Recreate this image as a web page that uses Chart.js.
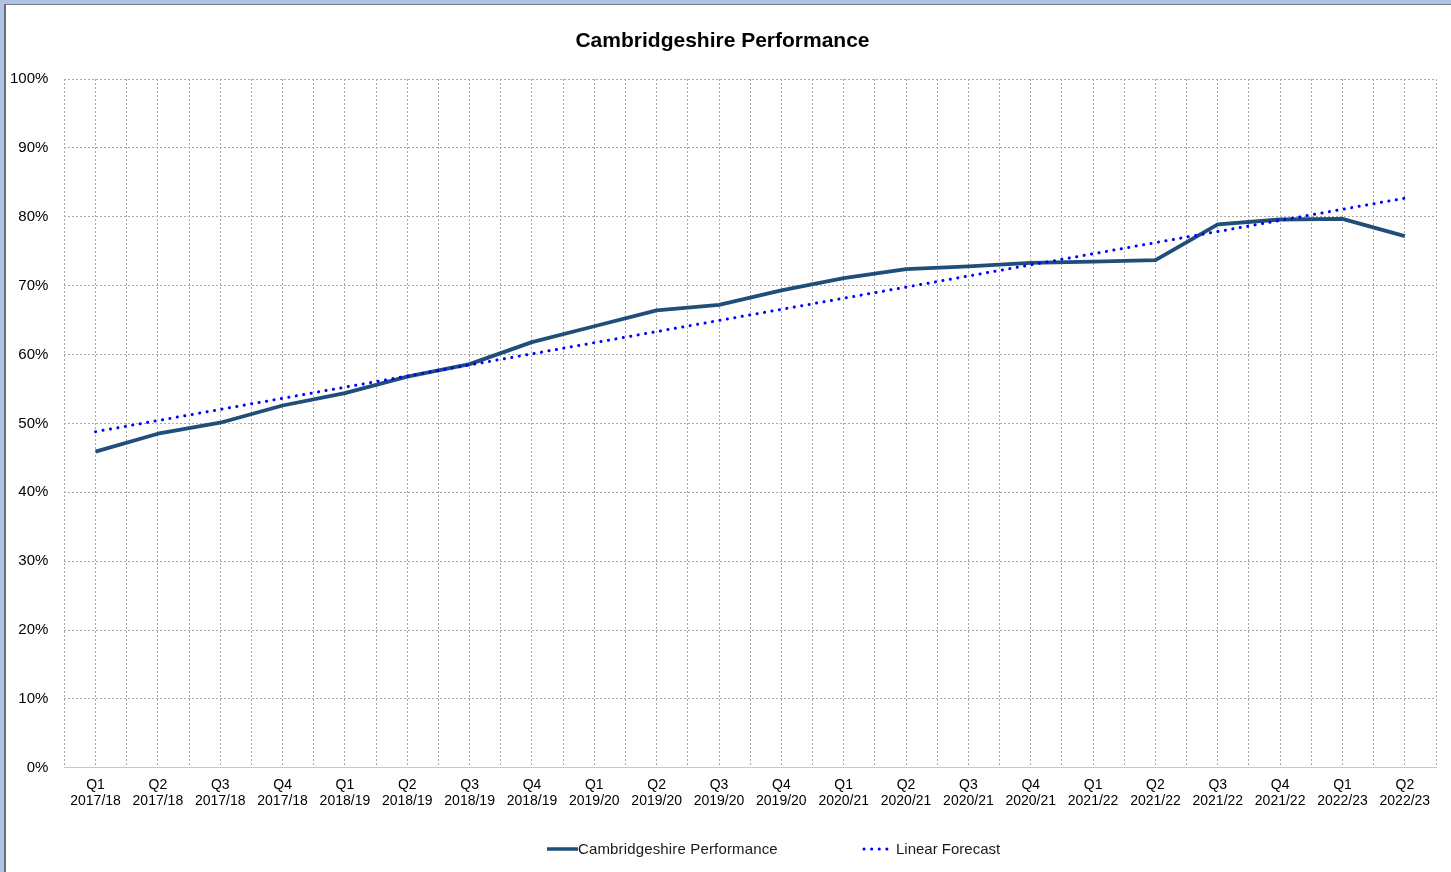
<!DOCTYPE html>
<html>
<head>
<meta charset="utf-8">
<script src="https://cdn.jsdelivr.net/npm/chart.js@4.4.0/dist/chart.umd.min.js"></script>
<style>
  html, body { margin: 0; padding: 0; overflow: hidden; background: #ffffff; }
  #wrap { position: relative; width: 1451px; height: 872px; }
  #chart { position: absolute; left: 0; top: 0; }
  .bandTop { position: absolute; left: 0; top: 0; width: 1451px; height: 4px; background: #adc2e6; }
  .lineTop { position: absolute; left: 4px; top: 4px; width: 1447px; height: 1px; background: #7a7a7a; }
  .bandLeft { position: absolute; left: 0; top: 0; width: 4px; height: 872px; background: #adc2e6; }
  .lineLeft { position: absolute; left: 4px; top: 4px; width: 2px; height: 868px; background: #6e6e6e; }
  #legend { position: absolute; top: 840px; left: 0; width: 1451px; height: 18px;
            font-family: "Liberation Sans", Arial, sans-serif; font-size: 15px; color: #1a1a1a; }
  .item { position: absolute; top: 0; height: 18px; line-height: 18px; white-space: nowrap; }
  .item svg { position: absolute; top: 0; left: 0; }
  .item span { position: absolute; top: 0; }
</style>
</head>
<body>
<div id="wrap">
  <canvas id="chart" width="1451" height="872"></canvas>
  <div class="bandTop"></div>
  <div class="bandLeft"></div>
  <div class="lineTop"></div>
  <div class="lineLeft"></div>
  <div id="legend">
    <div class="item" style="left:547px;">
      <svg width="32" height="18"><line x1="0" y1="9" x2="31" y2="9" stroke="#1f4e79" stroke-width="3.5"/></svg>
      <span style="left:31px; letter-spacing:0.15px;">Cambridgeshire Performance</span>
    </div>
    <div class="item" style="left:862px;">
      <svg width="30" height="18"><line x1="2" y1="9" x2="26" y2="9" stroke="#0000ff" stroke-width="3" stroke-linecap="round" stroke-dasharray="0.1 7.5"/></svg>
      <span style="left:34px;">Linear Forecast</span>
    </div>
  </div>
</div>
<script>
const quarters = ["Q1","Q2","Q3","Q4","Q1","Q2","Q3","Q4","Q1","Q2","Q3","Q4","Q1","Q2","Q3","Q4","Q1","Q2","Q3","Q4","Q1","Q2"];
const years = ["2017/18","2017/18","2017/18","2017/18","2018/19","2018/19","2018/19","2018/19","2019/20","2019/20","2019/20","2019/20","2020/21","2020/21","2020/21","2020/21","2021/22","2021/22","2021/22","2021/22","2022/23","2022/23"];
const performance = [45.9, 48.5, 50.1, 52.6, 54.4, 56.8, 58.6, 61.8, 64.1, 66.4, 67.2, 69.3, 71.1, 72.4, 72.8, 73.3, 73.5, 73.7, 78.9, 79.6, 79.7, 77.2];
const forecastIndex = [0, 21];
const forecastValues = [48.8, 82.7];
const yTicks = [0, 10, 20, 30, 40, 50, 60, 70, 80, 90, 100];

const perfPoints = performance.map((v, i) => ({ x: i, y: v }));
const forecastPoints = forecastIndex.map((x, i) => ({ x: x, y: forecastValues[i] }));

const gridColor = '#a8a8a8';
const fontFamily = '"Liberation Sans", Arial, sans-serif';

new Chart(document.getElementById('chart'), {
  type: 'line',
  data: {
    datasets: [
      {
        label: 'Cambridgeshire Performance',
        data: perfPoints,
        borderColor: '#1f4e79',
        borderWidth: 3.8,
        pointRadius: 0,
        tension: 0,
        fill: false,
        borderJoinStyle: 'round',
        order: 2
      },
      {
        label: 'Linear Forecast',
        data: forecastPoints,
        borderColor: '#0000ff',
        borderWidth: 3,
        borderCapStyle: 'round',
        borderDash: [0.1, 7.45],
        pointRadius: 0,
        tension: 0,
        fill: false,
        order: 1
      }
    ]
  },
  options: {
    responsive: false,
    animation: false,
    events: [],
    layout: { padding: { left: -6, right: 0, top: 0, bottom: 54 } },
    plugins: {
      legend: { display: false },
      tooltip: { enabled: false },
      title: {
        display: true,
        text: 'Cambridgeshire Performance',
        color: '#000000',
        font: { family: fontFamily, size: 21, weight: 'bold', lineHeight: 1.2 },
        padding: { top: 29, bottom: 24.8 }
      }
    },
    scales: {
      x: {
        type: 'linear',
        min: -0.5,
        max: 21.5,
        afterBuildTicks: (axis) => {
          const t = [];
          for (let i = 0; i <= 44; i++) t.push({ value: -0.5 + i * 0.5 });
          axis.ticks = t;
        },
        grid: {
          color: gridColor,
          lineWidth: 1,
          drawTicks: false,
          tickLength: 0
        },
        border: { display: true, color: '#c8c8c8', width: 1, dash: [2, 2] },
        ticks: {
          autoSkip: false,
          maxRotation: 0,
          minRotation: 0,
          padding: 9,
          color: '#000000',
          font: { family: fontFamily, size: 14, lineHeight: 1.15 },
          callback: (value) => {
            const r = Math.round(value);
            if (Math.abs(value - r) > 1e-6 || r < 0 || r >= quarters.length) return '';
            return [quarters[r], years[r]];
          }
        }
      },
      y: {
        min: 0,
        max: 100,
        afterBuildTicks: (axis) => { axis.ticks = yTicks.map(v => ({ value: v })); },
        grid: {
          color: gridColor,
          lineWidth: 1,
          drawTicks: false,
          tickLength: 0
        },
        border: { display: false, dash: [2, 2] },
        ticks: {
          padding: 16,
          color: '#000000',
          font: { family: fontFamily, size: 15 },
          callback: (v) => v + '%'
        }
      },
      ySpacer: {
        type: 'linear',
        position: 'right',
        display: true,
        min: 0,
        max: 100,
        grid: { display: false, drawOnChartArea: false, drawTicks: false },
        border: { display: false },
        ticks: { display: false },
        afterFit: (axis) => { axis.width = 15; }
      }
    }
  }
});
</script>
</body>
</html>
